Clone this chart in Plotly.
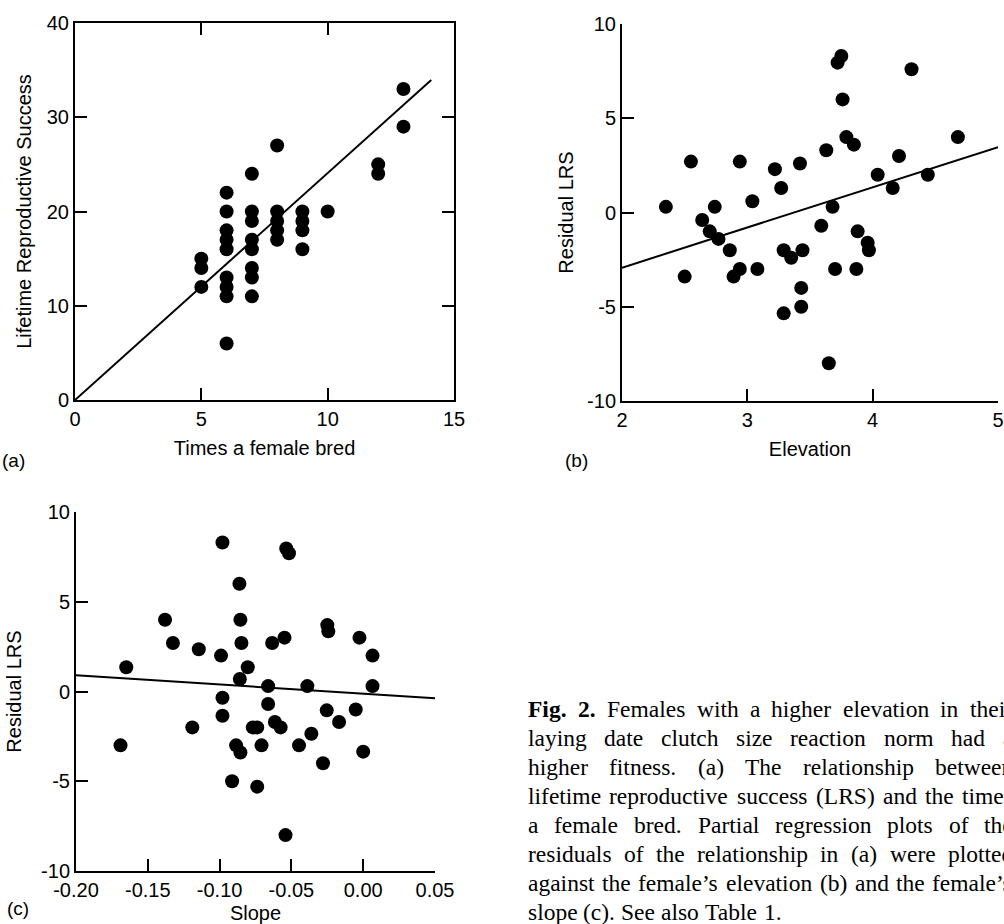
import plotly.graph_objects as go

# ---------------- data ----------------
# (a) Times a female bred vs Lifetime Reproductive Success
a_x = [5, 5, 5, 6, 6, 6, 6, 6, 6, 6, 6, 6, 7, 7, 7, 7, 7, 7, 7, 7,
       8, 8, 8, 8, 8, 9, 9, 9, 9, 10, 12, 12, 13, 13]
a_y = [15, 14, 12, 22, 20, 18, 17, 16, 13, 12, 11, 6, 24, 20, 19, 17, 16, 14, 13, 11,
       27, 20, 19, 18, 17, 20, 19, 18, 16, 20, 25, 24, 33, 29]
a_fit_x = [0, 14.1]
a_fit_y = [0, 33.95]

# (b) Elevation vs Residual LRS
b_x = [2.35, 2.50, 2.55, 2.64, 2.70, 2.74, 2.77, 2.86, 2.89, 2.94, 2.94, 3.04,
       3.08, 3.22, 3.27, 3.29, 3.29, 3.35, 3.42, 3.44, 3.43, 3.43, 3.59, 3.63,
       3.65, 3.68, 3.70, 3.72, 3.75, 3.76, 3.79, 3.85, 3.87, 3.88, 3.96, 3.97,
       4.04, 4.16, 4.21, 4.31, 4.44, 4.68]
b_y = [0.3, -3.4, 2.7, -0.4, -1.0, 0.3, -1.4, -2.0, -3.4, -3.0, 2.7, 0.6,
       -3.0, 2.3, 1.3, -2.0, -5.35, -2.4, 2.6, -2.0, -4.0, -5.0, -0.7, 3.3,
       -8.0, 0.3, -3.0, 7.95, 8.3, 6.0, 4.0, 3.6, -3.0, -1.0, -1.6, -2.0,
       2.0, 1.3, 3.0, 7.6, 2.0, 4.0]
b_fit_x = [2, 5]
b_fit_y = [-2.93, 3.47]

# (c) Slope vs Residual LRS
c_x = [-0.169, -0.165, -0.138, -0.1325, -0.119, -0.1145, -0.099, -0.098, -0.098, -0.098,
       -0.0913, -0.0885, -0.0862, -0.0855, -0.0855, -0.0848, -0.0859, -0.0804, -0.0769, -0.0738,
       -0.0738, -0.0708, -0.0662, -0.0662, -0.0634, -0.0615, -0.0575, -0.0548, -0.0541, -0.0536,
       -0.0517, -0.0447, -0.0389, -0.0361, -0.028, -0.0254, -0.025, -0.0243, -0.0168, -0.0052,
       -0.0026, 0.0, 0.0065, 0.0065]
c_y = [-3.0, 1.35, 4.0, 2.7, -2.0, 2.35, 2.0, 8.3, -0.35, -1.35,
       -5.0, -3.0, 6.0, -3.4, 4.0, 2.7, 0.7, 1.35, -2.0, -2.0,
       -5.3, -3.0, 0.3, -0.7, 2.7, -1.7, -2.0, 3.0, -8.0, 7.97,
       7.7, -3.0, 0.3, -2.35, -4.0, -1.05, 3.7, 3.35, -1.7, -1.0,
       3.0, -3.35, 2.0, 0.3]
c_fit_x = [-0.20, 0.05]
c_fit_y = [0.91, -0.38]

# tick labels
a_xticks = [0, 5, 10, 15]
a_xtext = ["0", "5", "10", "15"]
a_yticks = [0, 10, 20, 30, 40]
a_ytext = ["0", "10", "20", "30", "40"]
b_xticks = [2, 3, 4, 5]
b_xtext = ["2", "3", "4", "5"]
res_ticks = [-10, -5, 0, 5, 10]
res_text = ["-10", "-5", "0", "5", "10"]
c_xticks = [-0.20, -0.15, -0.10, -0.05, 0.00, 0.05]
c_xtext = ["-0.20", "-0.15", "-0.10", "-0.05", "0.00", "0.05"]

caption_lines = [
    ["<b>Fig.</b>", "<b>2.</b>", "Females", "with", "a", "higher", "elevation", "in", "their"],
    ["laying", "date", "clutch", "size", "reaction", "norm", "had", "a"],
    ["higher", "fitness.", "(a)", "The", "relationship", "between"],
    ["lifetime", "reproductive", "success", "(LRS)", "and", "the", "times"],
    ["a", "female", "bred.", "Partial", "regression", "plots", "of", "the"],
    ["residuals", "of", "the", "relationship", "in", "(a)", "were", "plotted"],
    ["against", "the", "female\u2019s", "elevation", "(b)", "and", "the", "female\u2019s"],
    ["slope", "(c).", "See", "also", "Table", "1."],
]

# ---------------- layout helpers ----------------
W, H = 1004, 924


def px(x):
    return x / W


def py(y):
    return 1 - y / H


SANS = "Liberation Sans, Arial, sans-serif"
SERIF = "Liberation Serif, Times New Roman, serif"

TIMES = {' ': 250, '(': 333, ')': 333, '.': 250, ',': 250, '\u2019': 333, '1': 500, '2': 500,
         'A': 722, 'B': 667, 'C': 667, 'D': 722, 'E': 611, 'F': 556, 'G': 722, 'H': 722, 'I': 333,
         'L': 611, 'P': 556, 'R': 667, 'S': 556, 'T': 611,
         'a': 444, 'b': 500, 'c': 444, 'd': 500, 'e': 444, 'f': 333, 'g': 500, 'h': 500, 'i': 278,
         'j': 278, 'k': 500, 'l': 278, 'm': 778, 'n': 500, 'o': 500, 'p': 500, 'q': 500, 'r': 333,
         's': 389, 't': 278, 'u': 500, 'v': 500, 'w': 722, 'x': 500, 'y': 500, 'z': 444}
TIMES_B = {'F': 611, 'i': 278, 'g': 500, '.': 250, '2': 500}


def word_w(word, size):
    bold = word.startswith("<b>")
    w = word.replace("<b>", "").replace("</b>", "")
    tab = TIMES_B if bold else TIMES
    return sum(tab.get(ch, TIMES.get(ch, 500)) for ch in w) / 1000 * size


fig = go.Figure()

mk = dict(color="black", size=14)
ln = dict(color="black", width=2)
fig.add_trace(go.Scatter(x=a_x, y=a_y, mode="markers", marker=mk, xaxis="x", yaxis="y"))
fig.add_trace(go.Scatter(x=a_fit_x, y=a_fit_y, mode="lines", line=ln, xaxis="x", yaxis="y"))
fig.add_trace(go.Scatter(x=b_x, y=b_y, mode="markers", marker=mk, xaxis="x2", yaxis="y2"))
fig.add_trace(go.Scatter(x=b_fit_x, y=b_fit_y, mode="lines", line=ln, xaxis="x2", yaxis="y2"))
fig.add_trace(go.Scatter(x=c_x, y=c_y, mode="markers", marker=mk, xaxis="x3", yaxis="y3"))
fig.add_trace(go.Scatter(x=c_fit_x, y=c_fit_y, mode="lines", line=ln, xaxis="x3", yaxis="y3"))

common = dict(showline=True, linewidth=2, linecolor="black", ticks="inside", ticklen=12,
              tickwidth=2, tickcolor="black", showgrid=False, zeroline=False,
              automargin=False,
              tickfont=dict(family=SANS, size=20, color="black"),
              title_font=dict(family=SANS, size=20, color="black"), tickmode="array")

fig.update_layout(
    width=W, height=H, margin=dict(l=0, r=0, t=0, b=0, autoexpand=False),
    paper_bgcolor="white", plot_bgcolor="white", showlegend=False,
    xaxis=dict(common, domain=[px(75), px(454)], range=[0, 15], anchor="y", mirror="ticks",
               tickvals=a_xticks, ticktext=a_xtext,
               title=dict(text="Times a female bred", standoff=12)),
    yaxis=dict(common, domain=[py(400), py(23)], range=[0, 40], anchor="x", mirror="ticks",
               tickvals=a_yticks, ticktext=a_ytext,
               title=dict(text="Lifetime Reproductive Success", standoff=10)),
    xaxis2=dict(common, domain=[px(622), px(998)], range=[2, 5], anchor="y2",
                tickvals=b_xticks, ticktext=b_xtext,
                title=dict(text="Elevation", standoff=12)),
    yaxis2=dict(common, domain=[py(401), py(24)], range=[-10, 10], anchor="x2",
                tickvals=res_ticks, ticktext=res_text,
                title=dict(text="Residual LRS", standoff=8)),
    xaxis3=dict(common, domain=[px(76), px(435)], range=[-0.20, 0.05], anchor="y3",
                tickvals=c_xticks, ticktext=c_xtext,
                title=dict(text="Slope", standoff=10)),
    yaxis3=dict(common, domain=[py(871), py(512)], range=[-10, 10], anchor="x3",
                tickvals=res_ticks, ticktext=res_text,
                title=dict(text="Residual LRS", standoff=14)),
)

annotations = []
for lab, x0, y0 in [("(a)", 0, 460), ("(b)", 563, 460), ("(c)", 5, 908)]:
    annotations.append(dict(text=lab, x=px(x0), y=py(y0), xref="paper", yref="paper",
                            xanchor="left", yanchor="middle", showarrow=False,
                            font=dict(family=SANS, size=19, color="black")))

# caption, justified
CAP_SIZE = 23.5
left, right = 527, 1012
for i, words in enumerate(caption_lines):
    baseline = 717 + 29 * i
    widths = [word_w(w, CAP_SIZE) for w in words]
    if i < len(caption_lines) - 1:
        gap = (right - left - sum(widths)) / (len(words) - 1)
        gap = max(gap, 0.25 * CAP_SIZE * 0.8)
    else:
        gap = 0.25 * CAP_SIZE
    x = left
    for w, ww in zip(words, widths):
        annotations.append(dict(text=w, x=px(x), y=py(baseline - 0.34 * CAP_SIZE),
                                xref="paper", yref="paper", xanchor="left", yanchor="middle",
                                showarrow=False, borderpad=0,
                                font=dict(family=SERIF, size=CAP_SIZE, color="black")))
        x += ww + gap

fig.update_layout(annotations=annotations)
fig.write_html(
    "out.html",
    config={"displayModeBar": False},
    post_script="document.body.style.margin='0px';document.body.style.padding='0px';"
                "document.documentElement.style.overflow='hidden';"
                "document.body.style.overflow='hidden';",
)
